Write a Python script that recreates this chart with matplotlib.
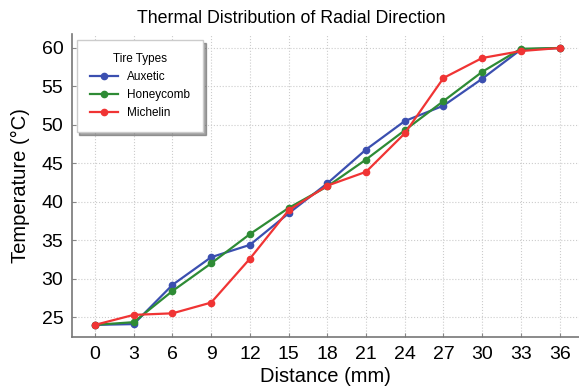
import matplotlib
matplotlib.use("Agg")
import matplotlib.pyplot as plt

distance = [0, 3, 6, 9, 12, 15, 18, 21, 24, 27, 30, 33, 36]
auxetic = [24.0, 24.1, 29.2, 32.8, 34.4, 38.5, 42.4, 46.8, 50.5, 52.5, 56.0, 59.8, 60.0]
honeycomb = [24.0, 24.35, 28.4, 32.0, 35.8, 39.2, 42.0, 45.5, 49.3, 53.1, 56.9, 59.9, 60.0]
michelin = [24.0, 25.3, 25.5, 26.9, 32.6, 38.9, 42.1, 43.9, 48.9, 56.1, 58.7, 59.6, 60.0]

series = [("Auxetic", auxetic, "#3b4fb0"),
          ("Honeycomb", honeycomb, "#2e8b35"),
          ("Michelin", michelin, "#f03434")]

plt.rcParams["font.family"] = ["Liberation Sans", "DejaVu Sans"]

fig = plt.figure(figsize=(5.79, 3.88), dpi=100)
ax = fig.add_axes([0.124, 0.131, 0.876, 0.781])

for name, vals, c in series:
    ax.plot(distance, vals, marker="o", color=c, lw=1.6, ms=4.5, label=name)

ax.set_xlim(-1.8, 37.5)
ax.set_ylim(22.4, 61.8)
ax.set_xticks(distance)
ax.set_yticks([25, 30, 35, 40, 45, 50, 55, 60])
ax.tick_params(direction="in", labelsize=14, color="#888888", length=3, pad=6)
ax.grid(True, ls=":", color="#cccccc", lw=0.8)
for s in ["top", "right"]:
    ax.spines[s].set_visible(False)
for s in ["left", "bottom"]:
    ax.spines[s].set_color("#777777")
    ax.spines[s].set_linewidth(1.2)

ax.set_xlabel("Distance (mm)", fontsize=14.5, labelpad=3)
ax.set_ylabel("Temperature (°C)", fontsize=14.5, labelpad=8)
fig.suptitle("Thermal Distribution of Radial Direction", fontsize=12.8, x=0.503, y=0.975)

leg = ax.legend(title="Tire Types", loc="upper left", fontsize=8.5, title_fontsize=8.5,
                shadow=True, fancybox=False, borderpad=1.1, handlelength=2.4,
                bbox_to_anchor=(-0.002, 1.0), edgecolor="#cccccc")

fig.savefig("out.png", dpi=100)
